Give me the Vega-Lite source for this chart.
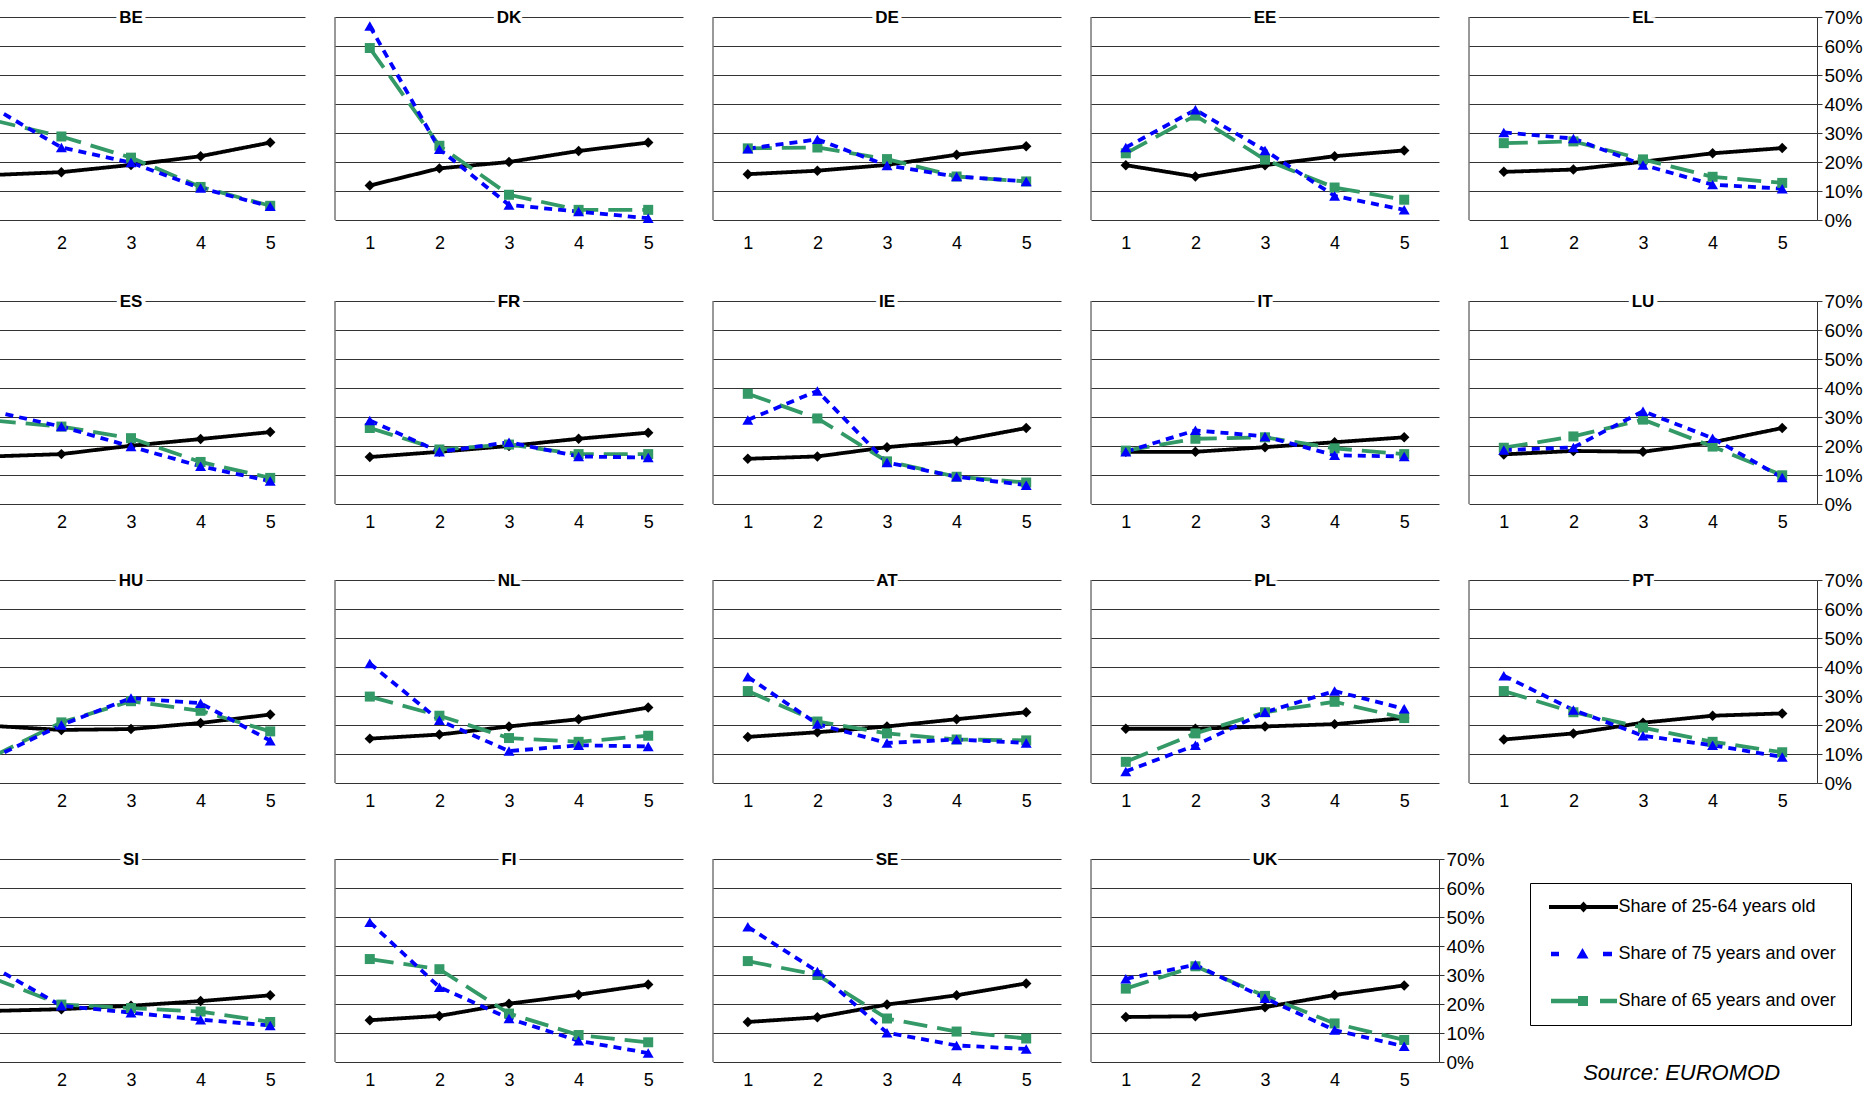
{
"$schema": "https://vega.github.io/schema/vega-lite/v6.json",
"padding": {"left": -44, "top": 8, "right": 0, "bottom": 0},
"background": "white",
"title": {"text": "Source: EUROMOD", "orient": "bottom", "anchor": "end", "fontStyle": "italic", "fontWeight": "normal", "fontSize": 22, "font": "Liberation Sans", "color": "#000", "offset": -26, "dx": -82},
"datasets": {"d": [
{"c":"BE","s":"k","x":1,"v":15.5},{"c":"BE","s":"k","x":2,"v":16.5},{"c":"BE","s":"k","x":3,"v":19},{"c":"BE","s":"k","x":4,"v":22},{"c":"BE","s":"k","x":5,"v":26.7},
{"c":"BE","s":"g","x":1,"v":34.5},{"c":"BE","s":"g","x":2,"v":28.8},{"c":"BE","s":"g","x":3,"v":21.5},{"c":"BE","s":"g","x":4,"v":11.4},{"c":"BE","s":"g","x":5,"v":4.9},
{"c":"BE","s":"b","x":1,"v":39},{"c":"BE","s":"b","x":2,"v":25},{"c":"BE","s":"b","x":3,"v":19.8},{"c":"BE","s":"b","x":4,"v":11},{"c":"BE","s":"b","x":5,"v":4.7},
{"c":"DK","s":"k","x":1,"v":11.9},{"c":"DK","s":"k","x":2,"v":17.8},{"c":"DK","s":"k","x":3,"v":20},{"c":"DK","s":"k","x":4,"v":23.8},{"c":"DK","s":"k","x":5,"v":26.7},
{"c":"DK","s":"g","x":1,"v":59.3},{"c":"DK","s":"g","x":2,"v":25.6},{"c":"DK","s":"g","x":3,"v":8.7},{"c":"DK","s":"g","x":4,"v":3.5},{"c":"DK","s":"g","x":5,"v":3.5},
{"c":"DK","s":"b","x":1,"v":66.9},{"c":"DK","s":"b","x":2,"v":24.4},{"c":"DK","s":"b","x":3,"v":5.2},{"c":"DK","s":"b","x":4,"v":2.9},{"c":"DK","s":"b","x":5,"v":0.6},
{"c":"DE","s":"k","x":1,"v":15.8},{"c":"DE","s":"k","x":2,"v":17},{"c":"DE","s":"k","x":3,"v":19},{"c":"DE","s":"k","x":4,"v":22.5},{"c":"DE","s":"k","x":5,"v":25.4},
{"c":"DE","s":"g","x":1,"v":24.7},{"c":"DE","s":"g","x":2,"v":25},{"c":"DE","s":"g","x":3,"v":21},{"c":"DE","s":"g","x":4,"v":15},{"c":"DE","s":"g","x":5,"v":13.3},
{"c":"DE","s":"b","x":1,"v":24.6},{"c":"DE","s":"b","x":2,"v":27.8},{"c":"DE","s":"b","x":3,"v":18.8},{"c":"DE","s":"b","x":4,"v":15},{"c":"DE","s":"b","x":5,"v":13.3},
{"c":"EE","s":"k","x":1,"v":18.9},{"c":"EE","s":"k","x":2,"v":15},{"c":"EE","s":"k","x":3,"v":18.9},{"c":"EE","s":"k","x":4,"v":22},{"c":"EE","s":"k","x":5,"v":24},
{"c":"EE","s":"g","x":1,"v":23},{"c":"EE","s":"g","x":2,"v":36},{"c":"EE","s":"g","x":3,"v":20.8},{"c":"EE","s":"g","x":4,"v":11.2},{"c":"EE","s":"g","x":5,"v":7},
{"c":"EE","s":"b","x":1,"v":25},{"c":"EE","s":"b","x":2,"v":38},{"c":"EE","s":"b","x":3,"v":24},{"c":"EE","s":"b","x":4,"v":8.3},{"c":"EE","s":"b","x":5,"v":3.5},
{"c":"EL","s":"k","x":1,"v":16.6},{"c":"EL","s":"k","x":2,"v":17.4},{"c":"EL","s":"k","x":3,"v":20.1},{"c":"EL","s":"k","x":4,"v":23},{"c":"EL","s":"k","x":5,"v":24.8},
{"c":"EL","s":"g","x":1,"v":26.5},{"c":"EL","s":"g","x":2,"v":27.1},{"c":"EL","s":"g","x":3,"v":20.9},{"c":"EL","s":"g","x":4,"v":14.9},{"c":"EL","s":"g","x":5,"v":12.8},
{"c":"EL","s":"b","x":1,"v":30.2},{"c":"EL","s":"b","x":2,"v":28.1},{"c":"EL","s":"b","x":3,"v":19},{"c":"EL","s":"b","x":4,"v":12.2},{"c":"EL","s":"b","x":5,"v":10.8},
{"c":"ES","s":"k","x":1,"v":16.4},{"c":"ES","s":"k","x":2,"v":17.2},{"c":"ES","s":"k","x":3,"v":20.1},{"c":"ES","s":"k","x":4,"v":22.4},{"c":"ES","s":"k","x":5,"v":24.8},
{"c":"ES","s":"g","x":1,"v":28.8},{"c":"ES","s":"g","x":2,"v":26.7},{"c":"ES","s":"g","x":3,"v":22.7},{"c":"ES","s":"g","x":4,"v":14.5},{"c":"ES","s":"g","x":5,"v":9},
{"c":"ES","s":"b","x":1,"v":32},{"c":"ES","s":"b","x":2,"v":26.7},{"c":"ES","s":"b","x":3,"v":19.8},{"c":"ES","s":"b","x":4,"v":13},{"c":"ES","s":"b","x":5,"v":7.9},
{"c":"FR","s":"k","x":1,"v":16.2},{"c":"FR","s":"k","x":2,"v":18},{"c":"FR","s":"k","x":3,"v":20},{"c":"FR","s":"k","x":4,"v":22.5},{"c":"FR","s":"k","x":5,"v":24.6},
{"c":"FR","s":"g","x":1,"v":26.2},{"c":"FR","s":"g","x":2,"v":18.8},{"c":"FR","s":"g","x":3,"v":20.5},{"c":"FR","s":"g","x":4,"v":17.2},{"c":"FR","s":"g","x":5,"v":17.2},
{"c":"FR","s":"b","x":1,"v":28.8},{"c":"FR","s":"b","x":2,"v":18},{"c":"FR","s":"b","x":3,"v":21.3},{"c":"FR","s":"b","x":4,"v":16.4},{"c":"FR","s":"b","x":5,"v":16},
{"c":"IE","s":"k","x":1,"v":15.6},{"c":"IE","s":"k","x":2,"v":16.4},{"c":"IE","s":"k","x":3,"v":19.6},{"c":"IE","s":"k","x":4,"v":21.7},{"c":"IE","s":"k","x":5,"v":26.2},
{"c":"IE","s":"g","x":1,"v":38},{"c":"IE","s":"g","x":2,"v":29.5},{"c":"IE","s":"g","x":3,"v":14.7},{"c":"IE","s":"g","x":4,"v":9.4},{"c":"IE","s":"g","x":5,"v":7.4},
{"c":"IE","s":"b","x":1,"v":29},{"c":"IE","s":"b","x":2,"v":39},{"c":"IE","s":"b","x":3,"v":14.3},{"c":"IE","s":"b","x":4,"v":9.4},{"c":"IE","s":"b","x":5,"v":6.5},
{"c":"IT","s":"k","x":1,"v":18},{"c":"IT","s":"k","x":2,"v":18},{"c":"IT","s":"k","x":3,"v":19.6},{"c":"IT","s":"k","x":4,"v":21.3},{"c":"IT","s":"k","x":5,"v":23},
{"c":"IT","s":"g","x":1,"v":18.4},{"c":"IT","s":"g","x":2,"v":22.5},{"c":"IT","s":"g","x":3,"v":23},{"c":"IT","s":"g","x":4,"v":19.2},{"c":"IT","s":"g","x":5,"v":17.2},
{"c":"IT","s":"b","x":1,"v":18},{"c":"IT","s":"b","x":2,"v":25.4},{"c":"IT","s":"b","x":3,"v":23.3},{"c":"IT","s":"b","x":4,"v":16.8},{"c":"IT","s":"b","x":5,"v":16.4},
{"c":"LU","s":"k","x":1,"v":17.1},{"c":"LU","s":"k","x":2,"v":18.3},{"c":"LU","s":"k","x":3,"v":18},{"c":"LU","s":"k","x":4,"v":21.3},{"c":"LU","s":"k","x":5,"v":26.2},
{"c":"LU","s":"g","x":1,"v":19.4},{"c":"LU","s":"g","x":2,"v":23.3},{"c":"LU","s":"g","x":3,"v":29.1},{"c":"LU","s":"g","x":4,"v":19.8},{"c":"LU","s":"g","x":5,"v":9.9},
{"c":"LU","s":"b","x":1,"v":18.6},{"c":"LU","s":"b","x":2,"v":19.5},{"c":"LU","s":"b","x":3,"v":32},{"c":"LU","s":"b","x":4,"v":22.7},{"c":"LU","s":"b","x":5,"v":9.1},
{"c":"HU","s":"k","x":1,"v":19.7},{"c":"HU","s":"k","x":2,"v":18.3},{"c":"HU","s":"k","x":3,"v":18.6},{"c":"HU","s":"k","x":4,"v":20.7},{"c":"HU","s":"k","x":5,"v":23.6},
{"c":"HU","s":"g","x":1,"v":9},{"c":"HU","s":"g","x":2,"v":20.9},{"c":"HU","s":"g","x":3,"v":28.2},{"c":"HU","s":"g","x":4,"v":24.9},{"c":"HU","s":"g","x":5,"v":17.8},
{"c":"HU","s":"b","x":1,"v":8.5},{"c":"HU","s":"b","x":2,"v":20},{"c":"HU","s":"b","x":3,"v":29.3},{"c":"HU","s":"b","x":4,"v":27.5},{"c":"HU","s":"b","x":5,"v":14.6},
{"c":"NL","s":"k","x":1,"v":15.3},{"c":"NL","s":"k","x":2,"v":16.7},{"c":"NL","s":"k","x":3,"v":19.5},{"c":"NL","s":"k","x":4,"v":22},{"c":"NL","s":"k","x":5,"v":26},
{"c":"NL","s":"g","x":1,"v":29.8},{"c":"NL","s":"g","x":2,"v":23.2},{"c":"NL","s":"g","x":3,"v":15.5},{"c":"NL","s":"g","x":4,"v":14.2},{"c":"NL","s":"g","x":5,"v":16.3},
{"c":"NL","s":"b","x":1,"v":41.2},{"c":"NL","s":"b","x":2,"v":21.6},{"c":"NL","s":"b","x":3,"v":11},{"c":"NL","s":"b","x":4,"v":13},{"c":"NL","s":"b","x":5,"v":12.6},
{"c":"AT","s":"k","x":1,"v":15.9},{"c":"AT","s":"k","x":2,"v":17.5},{"c":"AT","s":"k","x":3,"v":19.5},{"c":"AT","s":"k","x":4,"v":22},{"c":"AT","s":"k","x":5,"v":24.4},
{"c":"AT","s":"g","x":1,"v":31.7},{"c":"AT","s":"g","x":2,"v":21.2},{"c":"AT","s":"g","x":3,"v":17.1},{"c":"AT","s":"g","x":4,"v":15},{"c":"AT","s":"g","x":5,"v":14.7},
{"c":"AT","s":"b","x":1,"v":36.6},{"c":"AT","s":"b","x":2,"v":20.3},{"c":"AT","s":"b","x":3,"v":13.8},{"c":"AT","s":"b","x":4,"v":15},{"c":"AT","s":"b","x":5,"v":13.8},
{"c":"PL","s":"k","x":1,"v":18.7},{"c":"PL","s":"k","x":2,"v":18.7},{"c":"PL","s":"k","x":3,"v":19.5},{"c":"PL","s":"k","x":4,"v":20.3},{"c":"PL","s":"k","x":5,"v":22.4},
{"c":"PL","s":"g","x":1,"v":7.3},{"c":"PL","s":"g","x":2,"v":17.1},{"c":"PL","s":"g","x":3,"v":24.4},{"c":"PL","s":"g","x":4,"v":28},{"c":"PL","s":"g","x":5,"v":22.4},
{"c":"PL","s":"b","x":1,"v":4},{"c":"PL","s":"b","x":2,"v":13},{"c":"PL","s":"b","x":3,"v":24.4},{"c":"PL","s":"b","x":4,"v":31.7},{"c":"PL","s":"b","x":5,"v":25.6},
{"c":"PT","s":"k","x":1,"v":15},{"c":"PT","s":"k","x":2,"v":17.1},{"c":"PT","s":"k","x":3,"v":20.8},{"c":"PT","s":"k","x":4,"v":23.2},{"c":"PT","s":"k","x":5,"v":24},
{"c":"PT","s":"g","x":1,"v":31.7},{"c":"PT","s":"g","x":2,"v":24.4},{"c":"PT","s":"g","x":3,"v":19.1},{"c":"PT","s":"g","x":4,"v":14.2},{"c":"PT","s":"g","x":5,"v":10.6},
{"c":"PT","s":"b","x":1,"v":37},{"c":"PT","s":"b","x":2,"v":25.2},{"c":"PT","s":"b","x":3,"v":16.3},{"c":"PT","s":"b","x":4,"v":13},{"c":"PT","s":"b","x":5,"v":9},
{"c":"SI","s":"k","x":1,"v":17.6},{"c":"SI","s":"k","x":2,"v":18.2},{"c":"SI","s":"k","x":3,"v":19.4},{"c":"SI","s":"k","x":4,"v":21},{"c":"SI","s":"k","x":5,"v":23},
{"c":"SI","s":"g","x":1,"v":29},{"c":"SI","s":"g","x":2,"v":19.8},{"c":"SI","s":"g","x":3,"v":18.6},{"c":"SI","s":"g","x":4,"v":17.4},{"c":"SI","s":"g","x":5,"v":13.8},
{"c":"SI","s":"b","x":1,"v":33},{"c":"SI","s":"b","x":2,"v":19.4},{"c":"SI","s":"b","x":3,"v":17},{"c":"SI","s":"b","x":4,"v":14.6},{"c":"SI","s":"b","x":5,"v":12.6},
{"c":"FI","s":"k","x":1,"v":14.4},{"c":"FI","s":"k","x":2,"v":15.9},{"c":"FI","s":"k","x":3,"v":20.1},{"c":"FI","s":"k","x":4,"v":23.2},{"c":"FI","s":"k","x":5,"v":26.7},
{"c":"FI","s":"g","x":1,"v":35.5},{"c":"FI","s":"g","x":2,"v":32},{"c":"FI","s":"g","x":3,"v":16.7},{"c":"FI","s":"g","x":4,"v":9.3},{"c":"FI","s":"g","x":5,"v":6.8},
{"c":"FI","s":"b","x":1,"v":48.2},{"c":"FI","s":"b","x":2,"v":25.8},{"c":"FI","s":"b","x":3,"v":15},{"c":"FI","s":"b","x":4,"v":7.3},{"c":"FI","s":"b","x":5,"v":3.1},
{"c":"SE","s":"k","x":1,"v":13.8},{"c":"SE","s":"k","x":2,"v":15.4},{"c":"SE","s":"k","x":3,"v":19.8},{"c":"SE","s":"k","x":4,"v":23},{"c":"SE","s":"k","x":5,"v":27.1},
{"c":"SE","s":"g","x":1,"v":34.8},{"c":"SE","s":"g","x":2,"v":30},{"c":"SE","s":"g","x":3,"v":15},{"c":"SE","s":"g","x":4,"v":10.5},{"c":"SE","s":"g","x":5,"v":8.1},
{"c":"SE","s":"b","x":1,"v":46.6},{"c":"SE","s":"b","x":2,"v":31.2},{"c":"SE","s":"b","x":3,"v":10.1},{"c":"SE","s":"b","x":4,"v":5.7},{"c":"SE","s":"b","x":5,"v":4.5},
{"c":"UK","s":"k","x":1,"v":15.5},{"c":"UK","s":"k","x":2,"v":15.8},{"c":"UK","s":"k","x":3,"v":18.9},{"c":"UK","s":"k","x":4,"v":23.1},{"c":"UK","s":"k","x":5,"v":26.4},
{"c":"UK","s":"g","x":1,"v":25.3},{"c":"UK","s":"g","x":2,"v":33},{"c":"UK","s":"g","x":3,"v":22.8},{"c":"UK","s":"g","x":4,"v":13.3},{"c":"UK","s":"g","x":5,"v":7.6},
{"c":"UK","s":"b","x":1,"v":28.7},{"c":"UK","s":"b","x":2,"v":33.5},{"c":"UK","s":"b","x":3,"v":22},{"c":"UK","s":"b","x":4,"v":11},{"c":"UK","s":"b","x":5,"v":5.4}
]},
"data": {"name": "d"},
"spacing": 40,
"vconcat": [
{"transform": [{"filter": {"field": "c", "oneOf": ["BE","DK","DE","EE","EL"]}}],
 "facet": {"column": {"field": "c", "type": "nominal", "sort": ["BE","DK","DE","EE","EL"], "header": null}},
 "spacing": 29,
 "spec": {"width": 348, "height": 203,
  "encoding": {
   "x": {"field": "x", "type": "quantitative", "scale": {"domain": [0.5, 5.5], "nice": false, "zero": false}, "axis": {"values": [1,2,3,4,5], "format": "d", "title": null, "grid": false, "ticks": false, "domain": false, "labelFontSize": 18, "labelPadding": 8}},
   "y": {"field": "v", "type": "quantitative", "scale": {"domain": [0, 70], "nice": false, "zero": true}, "axis": {"orient": "right", "values": [0,10,20,30,40,50,60,70], "labelExpr": "datum.value + '%'", "title": null, "grid": true, "gridColor": "#333", "domainColor": "#333", "tickColor": "#333", "tickSize": 5, "labelFontSize": 19, "labelPadding": 2}},
   "color": {"field": "s", "type": "nominal", "scale": {"domain": ["k","b","g"], "range": ["#000000","#0000ff","#339966"]},
       "legend": {"title": null, "orient": "none", "legendX": 1573, "legendY": 866, "labelExpr": "datum.value == 'k' ? 'Share of 25-64 years old' : datum.value == 'b' ? 'Share of 75 years and over' : 'Share of 65 years and over'", "labelFontSize": 18, "labelColor": "#000", "labelLimit": 400, "symbolSize": 100, "rowPadding": 29, "padding": 15, "strokeColor": "#000", "fillColor": "#fff", "symbolOffset": 29.5, "labelOffset": 26,
        "encode": {"symbols": {"update": {
          "shape": {"signal": "datum.value == 'k' ? 'M-6.9,-0.4H6.9V0.4H-6.9Z M0,-1.1L1,0L0,1.1L-1,0Z' : datum.value == 'b' ? 'M-6.5,-0.45H-4.9V0.45H-6.5Z M3.9,-0.45H5.7V0.45H3.9Z M-0.2,-1.2L1,0.9L-1.4,0.9Z' : 'M-6.5,-0.45H-0.7V0.45H-6.5Z M-1.1,-1H0.9V1H-1.1Z M3.3,-0.45H6.7V0.45H3.3Z'"},
          "fill": {"signal": "datum.value == 'k' ? '#000000' : datum.value == 'b' ? '#0000ff' : '#339966'"},
          "strokeWidth": {"value": 0}, "opacity": {"value": 1}, "fillOpacity": {"value": 1}}}}}}
  },
  "layer": [
   {"mark": {"type": "line", "strokeWidth": 3.8},
    "encoding": {"strokeDash": {"field": "s", "type": "nominal", "scale": {"domain": ["k","b","g"], "range": [[1,0],[8,6],[24,10]]}, "legend": null}}},
   {"transform": [{"filter": "datum.s == 'k'"}], "mark": {"type": "point", "shape": "diamond", "filled": true, "size": 110, "opacity": 1}},
   {"transform": [{"filter": "datum.s == 'g'"}], "mark": {"type": "point", "shape": "square", "filled": true, "size": 100, "opacity": 1}},
   {"transform": [{"filter": "datum.s == 'b'"}], "mark": {"type": "point", "shape": "triangle-up", "filled": true, "size": 120, "opacity": 1}},
   {"transform": [{"filter": "datum.x == 1 && datum.s == 'k'"}],
    "layer": [
     {"mark": {"type": "rule", "color": "#333", "strokeWidth": 1}, "encoding": {"color": {"value": "#333"}, "x": {"datum": 0.5}, "y": {"datum": 0, "axis": {"orient": "right", "values": [0,10,20,30,40,50,60,70], "labelExpr": "datum.value + '%'", "title": null, "grid": true, "gridColor": "#333", "domainColor": "#333", "tickColor": "#333", "tickSize": 5, "labelFontSize": 19, "labelPadding": 2}}, "y2": {"datum": 70}}},
     {"mark": {"type": "text", "fontWeight": "bold", "fontSize": 17, "fill": "white", "stroke": "white", "strokeWidth": 8, "strokeJoin": "round", "baseline": "middle", "dy": 1}, "encoding": {"color": {"value": "white"}, "x": {"datum": 3}, "y": {"datum": 70, "axis": {"orient": "right", "values": [0,10,20,30,40,50,60,70], "labelExpr": "datum.value + '%'", "title": null, "grid": true, "gridColor": "#333", "domainColor": "#333", "tickColor": "#333", "tickSize": 5, "labelFontSize": 19, "labelPadding": 2}}, "text": {"field": "c"}}},
     {"mark": {"type": "text", "fontWeight": "bold", "fontSize": 17, "color": "#000", "baseline": "middle", "dy": 1}, "encoding": {"color": {"value": "#000"}, "x": {"datum": 3}, "y": {"datum": 70, "axis": {"orient": "right", "values": [0,10,20,30,40,50,60,70], "labelExpr": "datum.value + '%'", "title": null, "grid": true, "gridColor": "#333", "domainColor": "#333", "tickColor": "#333", "tickSize": 5, "labelFontSize": 19, "labelPadding": 2}}, "text": {"field": "c"}}}
    ]}
  ]}},
{"transform": [{"filter": {"field": "c", "oneOf": ["ES","FR","IE","IT","LU"]}}],
 "facet": {"column": {"field": "c", "type": "nominal", "sort": ["ES","FR","IE","IT","LU"], "header": null}},
 "spacing": 29,
 "spec": {"width": 348, "height": 203,
  "encoding": {
   "x": {"field": "x", "type": "quantitative", "scale": {"domain": [0.5, 5.5], "nice": false, "zero": false}, "axis": {"values": [1,2,3,4,5], "format": "d", "title": null, "grid": false, "ticks": false, "domain": false, "labelFontSize": 18, "labelPadding": 8}},
   "y": {"field": "v", "type": "quantitative", "scale": {"domain": [0, 70], "nice": false, "zero": true}, "axis": {"orient": "right", "values": [0,10,20,30,40,50,60,70], "labelExpr": "datum.value + '%'", "title": null, "grid": true, "gridColor": "#333", "domainColor": "#333", "tickColor": "#333", "tickSize": 5, "labelFontSize": 19, "labelPadding": 2}},
   "color": {"field": "s", "type": "nominal", "scale": {"domain": ["k","b","g"], "range": ["#000000","#0000ff","#339966"]}}
  },
  "layer": [
   {"mark": {"type": "line", "strokeWidth": 3.8},
    "encoding": {"strokeDash": {"field": "s", "type": "nominal", "scale": {"domain": ["k","b","g"], "range": [[1,0],[8,6],[24,10]]}, "legend": null}}},
   {"transform": [{"filter": "datum.s == 'k'"}], "mark": {"type": "point", "shape": "diamond", "filled": true, "size": 110, "opacity": 1}},
   {"transform": [{"filter": "datum.s == 'g'"}], "mark": {"type": "point", "shape": "square", "filled": true, "size": 100, "opacity": 1}},
   {"transform": [{"filter": "datum.s == 'b'"}], "mark": {"type": "point", "shape": "triangle-up", "filled": true, "size": 120, "opacity": 1}},
   {"transform": [{"filter": "datum.x == 1 && datum.s == 'k'"}],
    "layer": [
     {"mark": {"type": "rule", "color": "#333", "strokeWidth": 1}, "encoding": {"color": {"value": "#333"}, "x": {"datum": 0.5}, "y": {"datum": 0, "axis": {"orient": "right", "values": [0,10,20,30,40,50,60,70], "labelExpr": "datum.value + '%'", "title": null, "grid": true, "gridColor": "#333", "domainColor": "#333", "tickColor": "#333", "tickSize": 5, "labelFontSize": 19, "labelPadding": 2}}, "y2": {"datum": 70}}},
     {"mark": {"type": "text", "fontWeight": "bold", "fontSize": 17, "fill": "white", "stroke": "white", "strokeWidth": 8, "strokeJoin": "round", "baseline": "middle", "dy": 1}, "encoding": {"color": {"value": "white"}, "x": {"datum": 3}, "y": {"datum": 70, "axis": {"orient": "right", "values": [0,10,20,30,40,50,60,70], "labelExpr": "datum.value + '%'", "title": null, "grid": true, "gridColor": "#333", "domainColor": "#333", "tickColor": "#333", "tickSize": 5, "labelFontSize": 19, "labelPadding": 2}}, "text": {"field": "c"}}},
     {"mark": {"type": "text", "fontWeight": "bold", "fontSize": 17, "color": "#000", "baseline": "middle", "dy": 1}, "encoding": {"color": {"value": "#000"}, "x": {"datum": 3}, "y": {"datum": 70, "axis": {"orient": "right", "values": [0,10,20,30,40,50,60,70], "labelExpr": "datum.value + '%'", "title": null, "grid": true, "gridColor": "#333", "domainColor": "#333", "tickColor": "#333", "tickSize": 5, "labelFontSize": 19, "labelPadding": 2}}, "text": {"field": "c"}}}
    ]}
  ]}},
{"transform": [{"filter": {"field": "c", "oneOf": ["HU","NL","AT","PL","PT"]}}],
 "facet": {"column": {"field": "c", "type": "nominal", "sort": ["HU","NL","AT","PL","PT"], "header": null}},
 "spacing": 29,
 "spec": {"width": 348, "height": 203,
  "encoding": {
   "x": {"field": "x", "type": "quantitative", "scale": {"domain": [0.5, 5.5], "nice": false, "zero": false}, "axis": {"values": [1,2,3,4,5], "format": "d", "title": null, "grid": false, "ticks": false, "domain": false, "labelFontSize": 18, "labelPadding": 8}},
   "y": {"field": "v", "type": "quantitative", "scale": {"domain": [0, 70], "nice": false, "zero": true}, "axis": {"orient": "right", "values": [0,10,20,30,40,50,60,70], "labelExpr": "datum.value + '%'", "title": null, "grid": true, "gridColor": "#333", "domainColor": "#333", "tickColor": "#333", "tickSize": 5, "labelFontSize": 19, "labelPadding": 2}},
   "color": {"field": "s", "type": "nominal", "scale": {"domain": ["k","b","g"], "range": ["#000000","#0000ff","#339966"]}}
  },
  "layer": [
   {"mark": {"type": "line", "strokeWidth": 3.8},
    "encoding": {"strokeDash": {"field": "s", "type": "nominal", "scale": {"domain": ["k","b","g"], "range": [[1,0],[8,6],[24,10]]}, "legend": null}}},
   {"transform": [{"filter": "datum.s == 'k'"}], "mark": {"type": "point", "shape": "diamond", "filled": true, "size": 110, "opacity": 1}},
   {"transform": [{"filter": "datum.s == 'g'"}], "mark": {"type": "point", "shape": "square", "filled": true, "size": 100, "opacity": 1}},
   {"transform": [{"filter": "datum.s == 'b'"}], "mark": {"type": "point", "shape": "triangle-up", "filled": true, "size": 120, "opacity": 1}},
   {"transform": [{"filter": "datum.x == 1 && datum.s == 'k'"}],
    "layer": [
     {"mark": {"type": "rule", "color": "#333", "strokeWidth": 1}, "encoding": {"color": {"value": "#333"}, "x": {"datum": 0.5}, "y": {"datum": 0, "axis": {"orient": "right", "values": [0,10,20,30,40,50,60,70], "labelExpr": "datum.value + '%'", "title": null, "grid": true, "gridColor": "#333", "domainColor": "#333", "tickColor": "#333", "tickSize": 5, "labelFontSize": 19, "labelPadding": 2}}, "y2": {"datum": 70}}},
     {"mark": {"type": "text", "fontWeight": "bold", "fontSize": 17, "fill": "white", "stroke": "white", "strokeWidth": 8, "strokeJoin": "round", "baseline": "middle", "dy": 1}, "encoding": {"color": {"value": "white"}, "x": {"datum": 3}, "y": {"datum": 70, "axis": {"orient": "right", "values": [0,10,20,30,40,50,60,70], "labelExpr": "datum.value + '%'", "title": null, "grid": true, "gridColor": "#333", "domainColor": "#333", "tickColor": "#333", "tickSize": 5, "labelFontSize": 19, "labelPadding": 2}}, "text": {"field": "c"}}},
     {"mark": {"type": "text", "fontWeight": "bold", "fontSize": 17, "color": "#000", "baseline": "middle", "dy": 1}, "encoding": {"color": {"value": "#000"}, "x": {"datum": 3}, "y": {"datum": 70, "axis": {"orient": "right", "values": [0,10,20,30,40,50,60,70], "labelExpr": "datum.value + '%'", "title": null, "grid": true, "gridColor": "#333", "domainColor": "#333", "tickColor": "#333", "tickSize": 5, "labelFontSize": 19, "labelPadding": 2}}, "text": {"field": "c"}}}
    ]}
  ]}},
{"transform": [{"filter": {"field": "c", "oneOf": ["SI","FI","SE","UK"]}}],
 "facet": {"column": {"field": "c", "type": "nominal", "sort": ["SI","FI","SE","UK"], "header": null}},
 "spacing": 29,
 "spec": {"width": 348, "height": 203,
  "encoding": {
   "x": {"field": "x", "type": "quantitative", "scale": {"domain": [0.5, 5.5], "nice": false, "zero": false}, "axis": {"values": [1,2,3,4,5], "format": "d", "title": null, "grid": false, "ticks": false, "domain": false, "labelFontSize": 18, "labelPadding": 8}},
   "y": {"field": "v", "type": "quantitative", "scale": {"domain": [0, 70], "nice": false, "zero": true}, "axis": {"orient": "right", "values": [0,10,20,30,40,50,60,70], "labelExpr": "datum.value + '%'", "title": null, "grid": true, "gridColor": "#333", "domainColor": "#333", "tickColor": "#333", "tickSize": 5, "labelFontSize": 19, "labelPadding": 2}},
   "color": {"field": "s", "type": "nominal", "scale": {"domain": ["k","b","g"], "range": ["#000000","#0000ff","#339966"]}}
  },
  "layer": [
   {"mark": {"type": "line", "strokeWidth": 3.8},
    "encoding": {"strokeDash": {"field": "s", "type": "nominal", "scale": {"domain": ["k","b","g"], "range": [[1,0],[8,6],[24,10]]}, "legend": null}}},
   {"transform": [{"filter": "datum.s == 'k'"}], "mark": {"type": "point", "shape": "diamond", "filled": true, "size": 110, "opacity": 1}},
   {"transform": [{"filter": "datum.s == 'g'"}], "mark": {"type": "point", "shape": "square", "filled": true, "size": 100, "opacity": 1}},
   {"transform": [{"filter": "datum.s == 'b'"}], "mark": {"type": "point", "shape": "triangle-up", "filled": true, "size": 120, "opacity": 1}},
   {"transform": [{"filter": "datum.x == 1 && datum.s == 'k'"}],
    "layer": [
     {"mark": {"type": "rule", "color": "#333", "strokeWidth": 1}, "encoding": {"color": {"value": "#333"}, "x": {"datum": 0.5}, "y": {"datum": 0, "axis": {"orient": "right", "values": [0,10,20,30,40,50,60,70], "labelExpr": "datum.value + '%'", "title": null, "grid": true, "gridColor": "#333", "domainColor": "#333", "tickColor": "#333", "tickSize": 5, "labelFontSize": 19, "labelPadding": 2}}, "y2": {"datum": 70}}},
     {"mark": {"type": "text", "fontWeight": "bold", "fontSize": 17, "fill": "white", "stroke": "white", "strokeWidth": 8, "strokeJoin": "round", "baseline": "middle", "dy": 1}, "encoding": {"color": {"value": "white"}, "x": {"datum": 3}, "y": {"datum": 70, "axis": {"orient": "right", "values": [0,10,20,30,40,50,60,70], "labelExpr": "datum.value + '%'", "title": null, "grid": true, "gridColor": "#333", "domainColor": "#333", "tickColor": "#333", "tickSize": 5, "labelFontSize": 19, "labelPadding": 2}}, "text": {"field": "c"}}},
     {"mark": {"type": "text", "fontWeight": "bold", "fontSize": 17, "color": "#000", "baseline": "middle", "dy": 1}, "encoding": {"color": {"value": "#000"}, "x": {"datum": 3}, "y": {"datum": 70, "axis": {"orient": "right", "values": [0,10,20,30,40,50,60,70], "labelExpr": "datum.value + '%'", "title": null, "grid": true, "gridColor": "#333", "domainColor": "#333", "tickColor": "#333", "tickSize": 5, "labelFontSize": 19, "labelPadding": 2}}, "text": {"field": "c"}}}
    ]}
  ]}}
],
"config": {"font": "Liberation Sans", "view": {"stroke": null}, "axis": {"labelColor": "#000", "labelFont": "Liberation Sans"}, "legend": {"labelFont": "Liberation Sans"}}
}
